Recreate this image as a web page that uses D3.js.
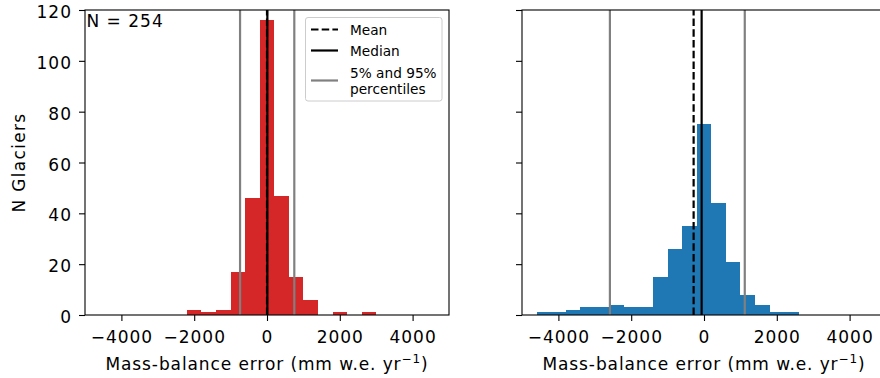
<!DOCTYPE html>
<html lang="en">
<head>
    <meta charset="UTF-8">
    <title>Mass-balance error histograms</title>
    <script src="https://d3js.org/d3.v7.min.js"></script>
    <style>
        body { margin: 0; background: white; }
        svg text { font-family: "DejaVu Sans", sans-serif; fill: black; }
        .tick text { font-size: 17px; letter-spacing: 1px; }
        .tick line { stroke: black; stroke-width: 1.1px; }
        .axis-label { font-size: 17px; letter-spacing: 0.9px; }
        .legend text { font-size: 13.7px; }
    </style>
</head>
<body>
<svg id="canvas" width="880" height="378"></svg>
<script>
    // histogram bins (mm w.e. yr-1) and counts
    let leftEdges = [-2200, -1800, -1400, -1000, -600, -200, 200, 600, 1000, 1400, 1800, 2200, 2600, 3000];
    let leftCounts = [2, 1, 2, 17, 46, 116, 47, 15, 6, 0, 1, 0, 1];
    let leftStats = {mean: 0, median: 10, p5: -740, p95: 750};

    let rightEdges = [-4600, -4200, -3800, -3400, -3000, -2600, -2200, -1800, -1400, -1000, -600, -200,
                      200, 600, 1000, 1400, 1800, 2200, 2600];
    let rightCounts = [1, 1, 2, 3, 3, 4, 3, 3, 15, 26, 35, 75, 44, 21, 8, 4, 1, 1];
    let rightStats = {mean: -285, median: -65, p5: -2585, p95: 1120};

    let xTicks = [-4000, -2000, 0, 2000, 4000];
    let yTicks = [0, 20, 40, 60, 80, 100, 120];
    let nLabel = "N = 254";

    let svg = d3.select('#canvas');
    let y = d3.scaleLinear().domain([0, 120]).range([315, 10]);

    function drawPanel(x0, x1, edges, counts, stats, color, showYLabels) {
        let x = d3.scaleLinear().domain([-5000, 5000]).range([x0, x1]);
        let g = svg.append('g');

        let bins = counts.map(function (c, i) { return {x0: edges[i], x1: edges[i + 1], n: c}; });
        g.selectAll('rect.bar')
            .data(bins.filter(function (d) { return d.n > 0; }))
            .enter()
            .append('rect')
            .attr('class', 'bar')
            .attr('x', function (d) { return x(d.x0); })
            .attr('width', function (d) { return x(d.x1) - x(d.x0); })
            .attr('y', function (d) { return y(d.n); })
            .attr('height', function (d) { return y(0) - y(d.n); })
            .attr('fill', color)
            .attr('shape-rendering', 'crispEdges');

        // reference lines
        g.append('line')
            .attr('x1', x(stats.mean)).attr('x2', x(stats.mean))
            .attr('y1', y(0)).attr('y2', y(120))
            .attr('stroke', 'black').attr('stroke-width', 2.2)
            .attr('stroke-dasharray', '7.5,3.2');
        g.append('line')
            .attr('x1', x(stats.median)).attr('x2', x(stats.median))
            .attr('y1', y(0)).attr('y2', y(120))
            .attr('stroke', 'black').attr('stroke-width', 2.2);
        [stats.p5, stats.p95].forEach(function (v) {
            g.append('line')
                .attr('x1', x(v)).attr('x2', x(v))
                .attr('y1', y(0)).attr('y2', y(120))
                .attr('stroke', 'grey').attr('stroke-width', 2.2);
        });

        // axes
        let xAxis = d3.axisBottom(x).tickValues(xTicks).tickFormat(d3.format('d'))
            .tickSize(6).tickPadding(10).tickSizeOuter(0);
        let gx = g.append('g').attr('transform', 'translate(0,' + y(0) + ')').call(xAxis);
        gx.select('.domain').remove();

        let yAxis = d3.axisLeft(y).tickValues(yTicks).tickSize(6).tickPadding(7).tickSizeOuter(0);
        if (!showYLabels) yAxis.tickFormat('');
        let gy = g.append('g').attr('transform', 'translate(' + x0 + ',0)').call(yAxis);
        gy.select('.domain').remove();
        gy.selectAll('.tick text').attr('dy', '0.45em');

        // frame
        g.append('rect')
            .attr('x', x0).attr('y', y(120))
            .attr('width', x1 - x0).attr('height', y(0) - y(120))
            .attr('fill', 'none').attr('stroke', 'black').attr('stroke-width', 1.1);

        // x label
        let lab = g.append('text')
            .attr('class', 'axis-label')
            .attr('x', (x0 + x1) / 2).attr('y', 370)
            .attr('text-anchor', 'middle');
        lab.append('tspan').text('Mass-balance error (mm w.e. yr');
        lab.append('tspan').attr('dy', -7).attr('font-size', '12px').text('\u22121');
        lab.append('tspan').attr('dy', 7).text(')');
        return x;
    }

    drawPanel(85, 449, leftEdges, leftCounts, leftStats, '#d62728', true);
    drawPanel(522, 886, rightEdges, rightCounts, rightStats, '#1f77b4', false);

    svg.append('text')
        .attr('class', 'axis-label')
        .attr('transform', 'translate(25,162.5) rotate(-90)')
        .attr('text-anchor', 'middle')
        .style('letter-spacing', '1.3px')
        .text('N Glaciers');

    svg.append('text')
        .attr('x', 86.5).attr('y', 27.3)
        .attr('font-size', '17px')
        .style('letter-spacing', '1px')
        .text(nLabel);

    // legend
    let legendItems = [
        {label: ['Mean'], color: 'black', dash: '7.5,3.2', y: 29.5},
        {label: ['Median'], color: 'black', dash: null, y: 50.5},
        {label: ['5% and 95%', 'percentiles'], color: 'grey', dash: null, y: 80.5}
    ];
    let legend = svg.append('g').attr('class', 'legend');
    legend.append('rect')
        .attr('x', 305.5).attr('y', 17.5).attr('width', 136.5).attr('height', 83.5)
        .attr('rx', 2.5)
        .attr('fill', 'white').attr('fill-opacity', 0.8)
        .attr('stroke', '#cccccc').attr('stroke-width', 1);
    legendItems.forEach(function (d) {
        legend.append('line')
            .attr('x1', 311).attr('x2', 338)
            .attr('y1', d.y).attr('y2', d.y)
            .attr('stroke', d.color).attr('stroke-width', 2.2)
            .attr('stroke-dasharray', d.dash);
        d.label.forEach(function (t, i) {
            legend.append('text')
                .attr('x', 350)
                .attr('y', d.y + 5 + (i - (d.label.length - 1) / 2) * 16)
                .text(t);
        });
    });
</script>
</body>
</html>
